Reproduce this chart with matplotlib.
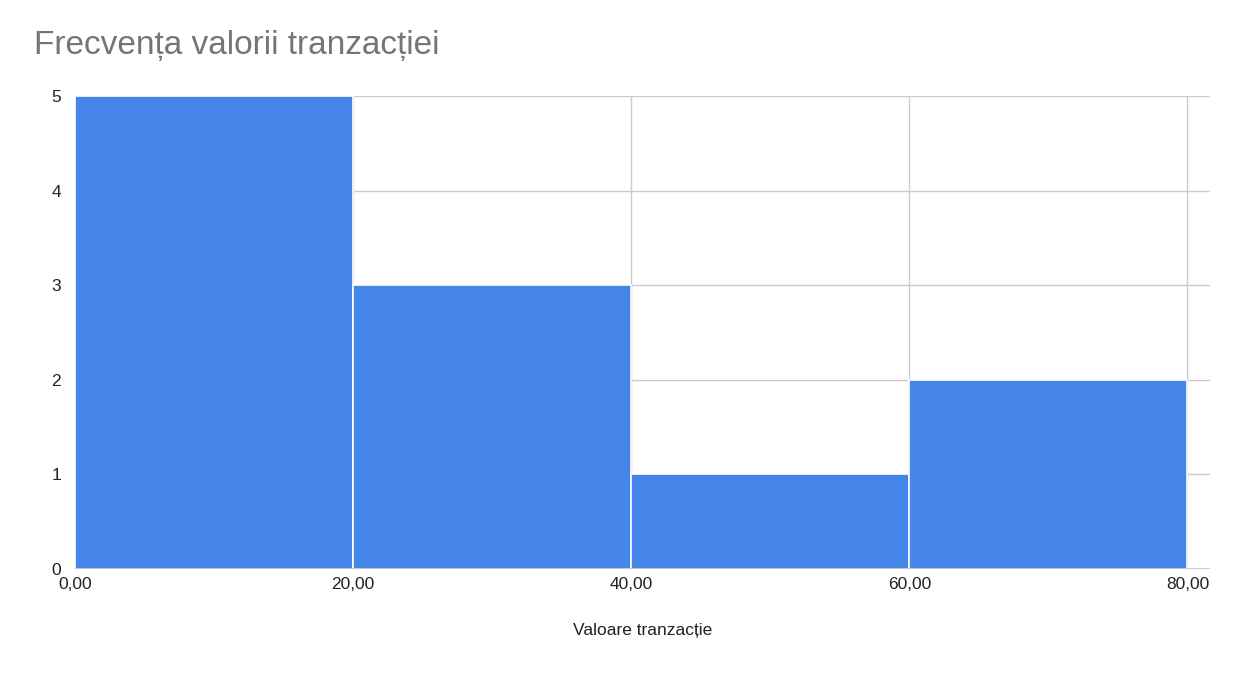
import matplotlib

matplotlib.use("Agg")
import matplotlib.pyplot as plt
from matplotlib.ticker import FuncFormatter

plt.rcParams["font.family"] = ["Liberation Sans", "DejaVu Sans"]

bin_edges = [0, 20, 40, 60, 80]
counts = [5, 3, 1, 2]
x_ticks = [0, 20, 40, 60, 80]
y_ticks = [0, 1, 2, 3, 4, 5]

fig = plt.figure(figsize=(12.42, 6.77), dpi=100)
ax = fig.add_axes([0.0604, 0.1595, 0.9136, 0.6985])

lefts = bin_edges[:-1]
widths = [b - a for a, b in zip(bin_edges[:-1], bin_edges[1:])]
ax.bar(lefts, counts, width=widths, align="edge", color="#4584e9",
       edgecolor="white", linewidth=1.2, zorder=3)

ax.set_xlim(0, 81.6)
ax.set_ylim(0, 5)
ax.set_xticks(x_ticks)
ax.set_yticks(y_ticks)
ax.xaxis.set_major_formatter(FuncFormatter(lambda v, p: f"{v:.2f}".replace(".", ",")))
ax.grid(True, color="#cccccc", linewidth=1, zorder=0)
for s in ax.spines.values():
    s.set_visible(False)
ax.axhline(0, color="#333333", linewidth=1, zorder=4)
ax.tick_params(length=0, labelsize=12.5, colors="#222222")
ax.tick_params(axis="y", pad=10)
ax.tick_params(axis="x", pad=6)
ax.set_xlabel("Valoare tranzacție", fontsize=12.5, labelpad=22, color="#222222")

fig.text(0.027, 0.933, "Frecvența valorii tranzacției", fontsize=24,
         color="#757575", va="center", ha="left")

fig.savefig("out.png", dpi=100)
